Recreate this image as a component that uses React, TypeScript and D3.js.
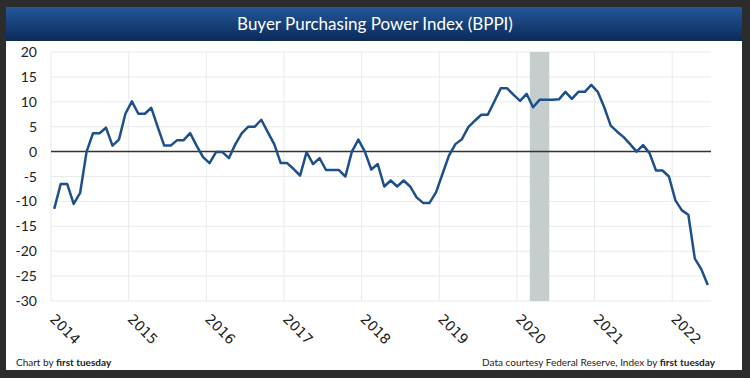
import React from "react";
import * as d3 from "d3";

const startYear = 2014;
const values: number[] = [
  // 2014
  -11.5, -6.5, -6.5, -10.5, -8.3, 0.0, 3.7, 3.7, 4.8, 1.2, 2.4, 7.6,
  // 2015
  10.1, 7.6, 7.6, 8.8, 4.9, 1.2, 1.2, 2.3, 2.3, 3.7, 1.2, -1.1,
  // 2016
  -2.3, -0.1, -0.1, -1.3, 1.5, 3.7, 5.0, 5.0, 6.4, 3.9, 1.5, -2.3,
  // 2017
  -2.3, -3.5, -4.8, -0.1, -2.5, -1.3, -3.7, -3.7, -3.7, -5.0, 0.0, 2.4,
  // 2018
  0.0, -3.6, -2.5, -7.0, -5.8, -7.0, -5.8, -7.0, -9.2, -10.3, -10.3, -8.2,
  // 2019
  -4.5, -0.8, 1.5, 2.5, 4.9, 6.2, 7.4, 7.4, 10.0, 12.7, 12.7, 11.4,
  // 2020
  10.2, 11.6, 8.9, 10.4, 10.4, 10.4, 10.5, 12.0, 10.6, 12.0, 12.0, 13.4,
  // 2021
  12.0, 8.9, 5.2, 4.0, 2.9, 1.5, 0.0, 1.3, -0.3, -3.8, -3.8, -5.0,
  // 2022
  -9.8, -11.8, -12.7, -21.5, -23.6, -26.8,
];
const yearTicks = [2014, 2015, 2016, 2017, 2018, 2019, 2020, 2021, 2022];
const yTicks = [20, 15, 10, 5, 0, -5, -10, -15, -20, -25, -30];
const recession = [2020 + 2 / 12, 2020 + 5 / 12];
const title = "Buyer Purchasing Power Index (BPPI)";

export default function App() {
  const W = 750, H = 378;
  const x = d3.scaleLinear().domain([2014, 2022.5]).range([51, 711]);
  const y = d3.scaleLinear().domain([-30, 20]).range([301, 52]);
  const pts = values.map((v, i) => ({ t: startYear + (i + 0.5) / 12, v }));
  const line = d3.line<{ t: number; v: number }>().x(d => x(d.t)).y(d => y(d.v));
  const sans = "Lato, 'Open Sans', sans-serif";
  return (
    <svg width={W} height={H} style={{ position: "absolute", left: 0, top: 0 }}>
      <defs>
        <linearGradient id="tb" x1="0" y1="0" x2="0" y2="1">
          <stop offset="0" stopColor="#24579a" />
          <stop offset="1" stopColor="#0b2a58" />
        </linearGradient>
      </defs>
      <rect x={0} y={0} width={W} height={H} fill="#2c2c2c" />
      <rect x={6} y={7} width={736} height={363} fill="#ffffff" />
      <rect x={6} y={7} width={736} height={34} fill="url(#tb)" />
      <text x={375} y={30} textAnchor="middle" fill="#ffffff" fontSize={17} fontFamily={sans}>{title}</text>
      {/* grid */}
      {yTicks.map(t => (
        <line key={"h" + t} x1={x(2014)} x2={x(2022.5)} y1={y(t)} y2={y(t)} stroke="#e6ebeb" strokeWidth={1} />
      ))}
      {yearTicks.map(t => (
        <line key={"v" + t} x1={x(t)} x2={x(t)} y1={y(20)} y2={y(-30)} stroke="#e6ebeb" strokeWidth={1} />
      ))}
      <rect x={x(recession[0])} y={y(20)} width={x(recession[1]) - x(recession[0])} height={y(-30) - y(20)} fill="#c5cdcd" />
      <line x1={x(2014)} x2={x(2022.5)} y1={y(0)} y2={y(0)} stroke="#333333" strokeWidth={1.5} />
      <path d={line(pts) || ""} fill="none" stroke="#1d4f8a" strokeWidth={2.5} strokeLinejoin="round" />
      {yTicks.map(t => (
        <text key={"yl" + t} x={37} y={y(t) + 5} textAnchor="end" fontSize={14} fill="#222" fontFamily={sans}>{t}</text>
      ))}
      {yearTicks.map(t => (
        <text key={"xl" + t} transform={`translate(${x(t) - 2},${320}) rotate(45)`} fontSize={14} fill="#222" fontFamily="'DejaVu Sans', sans-serif">{t}</text>
      ))}
      <text x={16} y={366} fontSize={10} fill="#222" fontFamily={sans}>Chart by <tspan fontWeight="bold">first tuesday</tspan></text>
      <text x={715} y={366} textAnchor="end" fontSize={10} fill="#222" fontFamily={sans}>Data courtesy Federal Reserve, Index by <tspan fontWeight="bold">first tuesday</tspan></text>
    </svg>
  );
}
